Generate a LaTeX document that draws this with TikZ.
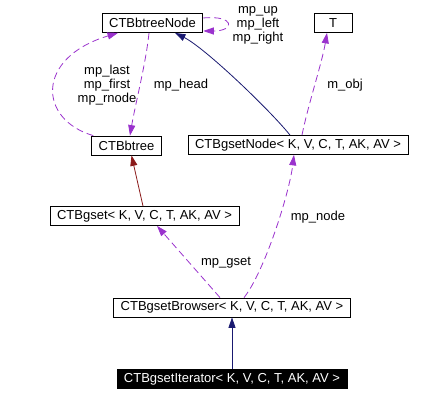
\documentclass[tikz,border=0pt]{standalone}
\usepackage{fontspec}
\setmainfont{Liberation Sans}
\usepackage{tikz}
\usetikzlibrary{arrows.meta}

\definecolor{usecol}{HTML}{9A32CD}
\definecolor{pubcol}{HTML}{191970}
\definecolor{protcol}{HTML}{8B1A1A}

\begin{document}
\begin{tikzpicture}[x=1pt, y=-1pt,
    every node/.style={font=\fontsize{13}{14}\selectfont},
    cls/.style={draw, line width=0.8pt, fill=white, minimum height=19pt, inner xsep=7pt, inner ysep=0pt},
    leaf/.style={cls, fill=black, text=white},
    lbl/.style={align=center, inner sep=0pt},
    usage/.style={usecol, line width=0.8pt, dash pattern=on 7pt off 4pt, -{Triangle[length=10.5pt, width=7pt]}},
    pubinh/.style={pubcol, line width=0.8pt, -{Triangle[length=10.5pt, width=7pt]}},
    protinh/.style={protcol, line width=0.8pt, -{Triangle[length=10.5pt, width=7pt]}}]
    \useasboundingbox (0, 0) rectangle (422, 403);

    \node [cls] (btreenode) at (152.5, 23) {CTBbtreeNode};
    \node [cls, minimum width=38pt] (tobj) at (333, 23) {T};
    \node [cls] (btree) at (126.5, 145.5) {CTBbtree};
    \node [cls] (gsetnode) at (298, 145) {CTBgsetNode< K, V, C, T, AK, AV >};
    \node [cls] (gset) at (144.5, 216) {CTBgset< K, V, C, T, AK, AV >};
    \node [cls] (browser) at (232, 307.5) {CTBgsetBrowser< K, V, C, T, AK, AV >};
    \node [leaf] (iterator) at (232, 379) {CTBgsetIterator< K, V, C, T, AK, AV >};

    \draw [pubinh] (iterator.north) -- (browser.south);
    \draw [protinh] ([xshift=-1.5pt]gset.north) -- ([xshift=5pt]btree.south);
    \draw [pubinh] ([xshift=-8pt]gsetnode.north) .. controls +(-20, -25) and +(30, 15) .. ([xshift=22.5pt]btreenode.south);

    \draw [usage] ([yshift=5pt]btreenode.east) .. controls +(32, -3) and +(32, 0) .. ([yshift=-8pt]btreenode.east);
    \draw [usage] ([xshift=2pt]btree.north west) .. controls +(-55, -16) and +(-83, 25) .. ([xshift=-34.5pt]btreenode.south);
    \draw [usage] ([xshift=-3.5pt]btreenode.south) .. controls +(-3, 30) and +(5, -30) .. ([xshift=3.5pt]btree.north);
    \draw [usage] ([xshift=4pt]gsetnode.north) .. controls +(6, -30) and +(-5, 30) .. ([xshift=-6pt]tobj.south);
    \draw [usage] ([xshift=12pt]browser.north) .. controls +(20, -25) and +(-5, 40) .. ([xshift=-4pt]gsetnode.south);
    \draw [usage] ([xshift=-12pt]browser.north) -- ([xshift=12.5pt]gset.south);

    \node [lbl] (selflbl) at (258, 25) {mp\_up\\mp\_left\\mp\_right};
    \node [lbl] (rootlbl) at (107, 85.5) {mp\_last\\mp\_first\\mp\_rnode};
    \node [lbl] (headlbl) at (181, 85) {mp\_head};
    \node [lbl] (objlbl) at (345, 85) {m\_obj};
    \node [lbl] (nodelbl) at (318, 217) {mp\_node};
    \node [lbl] (gsetlbl) at (226, 263) {mp\_gset};
\end{tikzpicture}
\end{document}
